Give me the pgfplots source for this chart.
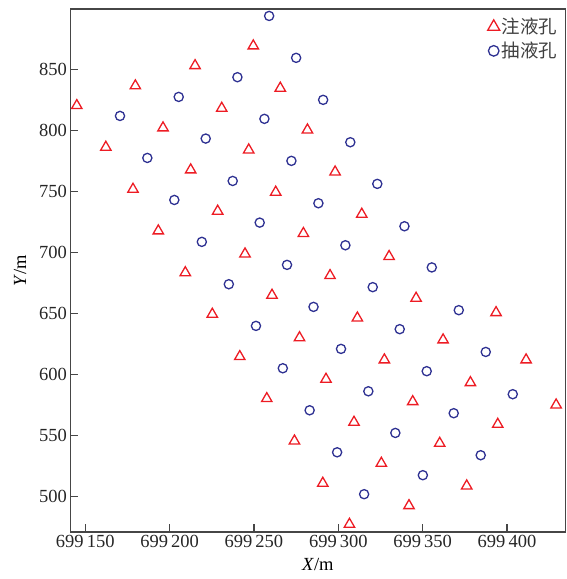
\documentclass[border=0pt]{standalone}
\usepackage{pgfplots}
\pgfplotsset{compat=1.18}
\usepackage{fontspec}
\setmainfont{Liberation Serif}
\newfontfamily\cjk{Noto Sans CJK SC}
\definecolor{myred}{RGB}{237,28,36}
\definecolor{myblue}{RGB}{46,49,146}
\definecolor{frame}{RGB}{70,70,70}
\begin{document}
\begin{tikzpicture}
\begin{axis}[
  name=ax,
  scale only axis,
  width=495pt, height=522.7pt,
  xmin=699141.2, xmax=699434.6,
  ymin=470.8, ymax=900,
  scaled x ticks=false, scaled y ticks=false,
  axis line style={frame, line width=1.6pt},
  xtick={699150,699200,699250,699300,699350,699400},
  xticklabels={699\,150,699\,200,699\,250,699\,300,699\,350,699\,400},
  ytick={500,550,600,650,700,750,800,850},
  xtick pos=bottom, ytick pos=left,
  tick align=inside,
  major tick length=8pt,
  tick style={frame, line width=1.2pt},
  /pgf/number format/assume math mode=true,
  tick label style={font=\fontsize{18.5}{20}\selectfont, text=black!85},
  xlabel={\textit{X}/m}, ylabel={\textit{Y}/m},
  label style={font=\fontsize{18.5}{20}\selectfont},
  xlabel style={yshift=-4pt},
  ylabel style={yshift=6pt},
  legend style={draw=none, fill=none, at={(1,1)}, anchor=north east,
    font=\cjk\fontsize{18.5}{20}\selectfont, text=black!75,
    row sep=3pt, inner sep=2pt, xshift=-4pt, yshift=-5pt},
  legend cell align=left,
  legend image post style={scale=1.15},
]
\coordinate (bl) at (rel axis cs:0,0);
\coordinate (tr) at (rel axis cs:1,1);
\addplot[only marks, mark=triangle, mark size=6pt, myred, line width=1.3pt] coordinates {
(699249.6,869.7) (699215.1,853.5) (699179.7,836.9) (699145.0,820.7)
(699265.6,835.0) (699230.9,818.5) (699196.1,802.4) (699162.2,786.5)
(699281.7,800.7) (699246.9,784.3) (699212.5,767.9) (699178.3,752.0)
(699298.1,766.2) (699262.9,749.6) (699228.5,734.0) (699193.3,717.8)
(699313.9,731.5) (699279.3,715.7) (699244.7,698.9) (699209.3,683.5)
(699330.1,696.8) (699295.1,681.1) (699260.7,665.0) (699225.3,649.4)
(699346.1,662.5) (699311.3,646.3) (699277.0,630.1) (699241.6,614.6)
(699362.1,628.3) (699327.3,611.9) (699292.7,596.0) (699257.6,580.1)
(699393.5,650.7) (699378.3,593.2) (699344.1,577.6) (699309.3,560.7)
(699274.0,545.3) (699411.3,611.9) (699394.5,559.0) (699360.1,543.4)
(699325.5,527.0) (699290.8,510.6) (699429.1,574.9) (699376.1,508.4)
(699341.9,492.2) (699306.6,476.9)
};
\addlegendentry{注液孔}
\addplot[only marks, mark=o, mark size=4.6pt, myblue, line width=1.3pt] coordinates {
(699259.0,894.3) (699275.0,859.9) (699240.2,844.0) (699205.4,827.8)
(699170.6,812.2) (699291.0,825.4) (699256.2,809.8) (699221.4,793.6)
(699186.8,777.7) (699307.1,790.6) (699272.2,775.3) (699237.4,758.8)
(699202.8,743.2) (699323.1,756.4) (699288.2,740.5) (699253.4,724.6)
(699219.1,708.8) (699339.2,721.6) (699304.2,706.0) (699269.6,689.9)
(699235.1,674.0) (699355.4,687.8) (699320.4,671.6) (699285.3,655.4)
(699251.2,639.8) (699371.4,652.7) (699336.4,637.1) (699301.6,620.9)
(699267.1,605.0) (699387.4,618.4) (699352.4,602.6) (699317.8,586.1)
(699283.0,570.5) (699403.4,583.7) (699368.4,568.1) (699333.8,551.9)
(699299.3,536.0) (699384.4,533.6) (699350.1,517.2) (699315.3,501.6)
};
\addlegendentry{抽液孔}
\end{axis}
\pgfresetboundingbox
\path ([shift={(-70.4pt,-47.3pt)}]bl) rectangle ([shift={(0.7pt,9pt)}]tr);
\end{tikzpicture}
\end{document}
